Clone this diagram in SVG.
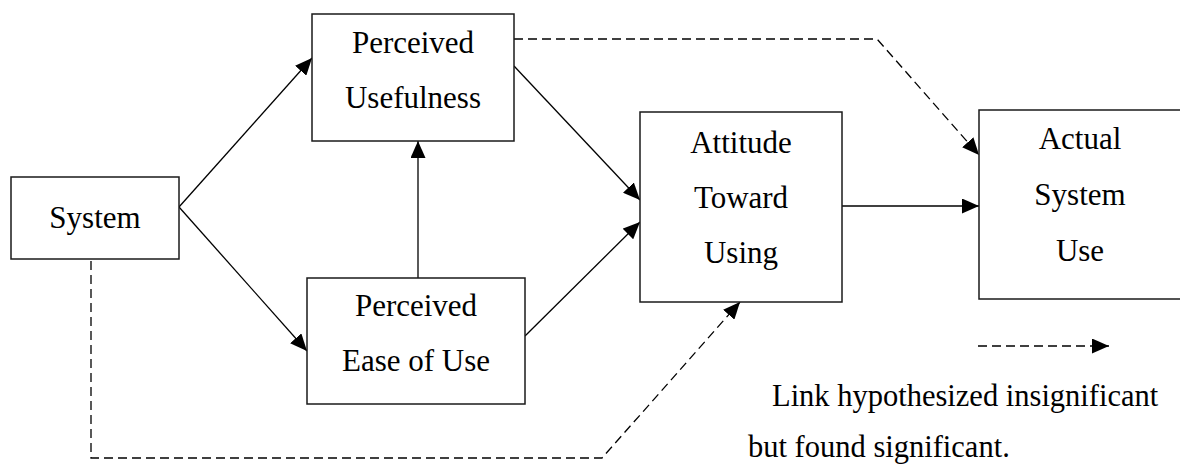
<svg xmlns="http://www.w3.org/2000/svg" width="1180" height="466" viewBox="0 0 1180 466">
  <style>
    .box { fill: #ffffff; stroke: #1a1a1a; stroke-width: 1.5; }
    .lbl { font-family: "Liberation Serif", "Times New Roman", serif; font-size: 31px; fill: #000000; text-anchor: middle; }
    .note { font-family: "Liberation Serif", "Times New Roman", serif; font-size: 30.5px; fill: #000000; }
    .link { fill: none; stroke: #000000; stroke-width: 1.3; marker-end: url(#head); }
    .dash { stroke-dasharray: 9 5; }
  </style>
  <defs>
    <marker id="head" markerUnits="userSpaceOnUse" markerWidth="17" markerHeight="15" refX="17" refY="7.5" orient="auto">
      <path d="M0,0 L17,7.5 L0,15 z" fill="#000000"/>
    </marker>
  </defs>
  <rect width="1180" height="466" fill="#ffffff"/>

  <g id="connectors">
    <path class="link" d="M179,207 L312,58"/>
    <path class="link" d="M179,207 L307,351"/>
    <path class="link" d="M418,278 L418,141"/>
    <path class="link" d="M514,66 L640,200"/>
    <path class="link" d="M525,336 L640,222"/>
    <path class="link" d="M842,206 L979,206"/>
    <path class="link dash" d="M514,39 L877,39 L979,155"/>
    <path class="link dash" d="M91,261 L91,458 L602,458 L740,302"/>
  </g>

  <g id="system">
    <rect class="box" x="11" y="177" width="168" height="82"/>
    <text class="lbl" x="95" y="228">System</text>
  </g>

  <g id="perceived-usefulness">
    <rect class="box" x="312" y="14" width="202" height="127"/>
    <text class="lbl" x="413" y="53">Perceived</text>
    <text class="lbl" x="413" y="108">Usefulness</text>
  </g>

  <g id="perceived-ease">
    <rect class="box" x="307" y="278" width="218" height="126"/>
    <text class="lbl" x="416" y="316">Perceived</text>
    <text class="lbl" x="416" y="371">Ease of Use</text>
  </g>

  <g id="attitude">
    <rect class="box" x="640" y="112" width="202" height="190"/>
    <text class="lbl" x="741" y="153">Attitude</text>
    <text class="lbl" x="741" y="208">Toward</text>
    <text class="lbl" x="741" y="263">Using</text>
  </g>

  <g id="actual-use">
    <rect class="box" x="979" y="110" width="220" height="189"/>
    <text class="lbl" x="1080" y="149">Actual</text>
    <text class="lbl" x="1080" y="205">System</text>
    <text class="lbl" x="1080" y="261">Use</text>
  </g>

  <g id="legend">
    <path class="link dash" d="M978,346 L1109,346"/>
    <text class="note" x="772" y="406">Link hypothesized insignificant</text>
    <text class="note" x="748" y="457">but found significant.</text>
  </g>
</svg>
